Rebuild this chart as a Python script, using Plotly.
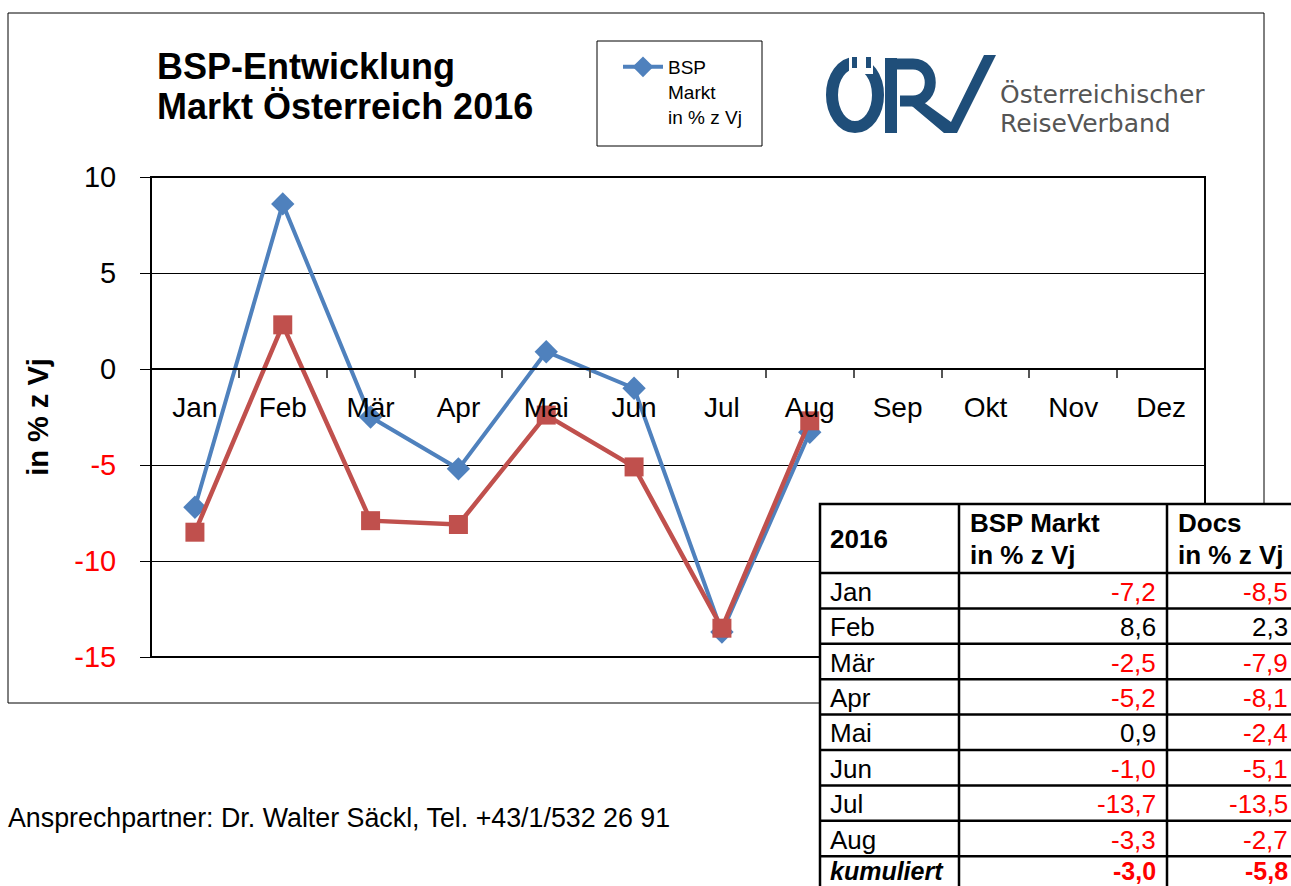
import plotly.graph_objects as go

# ---------------- data ----------------
months = ["Jan", "Feb", "Mär", "Apr", "Mai", "Jun", "Jul", "Aug", "Sep", "Okt", "Nov", "Dez"]
bsp_markt = [-7.2, 8.6, -2.5, -5.2, 0.9, -1.0, -13.7, -3.3]
docs = [-8.5, 2.3, -7.9, -8.1, -2.4, -5.1, -13.5, -2.7]
kumuliert_bsp = -3.0
kumuliert_docs = -5.8
y_tick_vals = [-15, -10, -5, 0, 5, 10]

# ---------------- geometry helpers (pixels) ----------------
W, H = 1291, 886
PL, PR, PT, PB = 151, 1205, 177, 657  # plot area in pixels
YMIN, YMAX = -15, 10

FONT = "Arial, Liberation Sans, sans-serif"
BLUE = "#4F81BD"
RED_S = "#C0504D"
RED = "#FF0000"
LOGO = "#1F4E79"


def fmt(v):
    return f"{v:.1f}".replace(".", ",")


def col(v):
    return RED if v < 0 else "black"


fig = go.Figure()

fig.add_trace(go.Scatter(
    x=months[:len(bsp_markt)], y=bsp_markt, mode="lines+markers",
    name="BSP<br>Markt<br>in % z Vj",
    line=dict(color=BLUE, width=4),
    marker=dict(symbol="diamond", size=18, color=BLUE),
    xaxis="x", yaxis="y", showlegend=True,
))
fig.add_trace(go.Scatter(
    x=months[:len(docs)], y=docs, mode="lines+markers",
    name="Docs",
    line=dict(color=RED_S, width=4.5),
    marker=dict(symbol="square", size=19, color=RED_S),
    xaxis="x", yaxis="y", showlegend=False,
))

zero_pos = 1 - (PT + (PB - PT) * (YMAX - 0) / (YMAX - YMIN)) / H

y_tick_text = [
    (f'<span style="color:{RED}">{v}</span>' if v < 0 else str(v)) for v in y_tick_vals
]

shapes = []
annotations = []

# outer chart frame
shapes.append(dict(type="rect", xref="x2", yref="y2", x0=8, y0=13, x1=1264, y1=703,
                   line=dict(color="black", width=1), layer="below"))
# plot area border
shapes.append(dict(type="rect", xref="x domain", yref="y domain", x0=0, y0=0, x1=1, y1=1,
                   line=dict(color="black", width=2), layer="above"))

# legend box
shapes.append(dict(type="rect", xref="x2", yref="y2", x0=597, y0=41, x1=762, y1=146,
                   line=dict(color="black", width=1), layer="above"))

# title
annotations.append(dict(xref="x2", yref="y2", x=155, y=66, xanchor="left", yanchor="middle",
                        text="<b>BSP-Entwicklung</b>", showarrow=False,
                        font=dict(family=FONT, size=36, color="black")))
annotations.append(dict(xref="x2", yref="y2", x=155, y=106, xanchor="left", yanchor="middle",
                        text="<b>Markt Österreich 2016</b>", showarrow=False,
                        font=dict(family=FONT, size=36, color="black")))

# ---------------- logo ----------------
shapes.append(dict(type="circle", xref="x2", yref="y2", x0=832, x1=878, y0=63, y1=127,
                   line=dict(color=LOGO, width=12), layer="above"))
shapes.append(dict(type="rect", xref="x2", yref="y2", x0=849, x1=873, y0=50, y1=74,
                   fillcolor="white", line=dict(width=0), layer="above"))
for sx in (852, 866):
    shapes.append(dict(type="rect", xref="x2", yref="y2", x0=sx, x1=sx + 5, y0=57, y1=68,
                       fillcolor=LOGO, line=dict(width=0), layer="above"))
# R stem
shapes.append(dict(type="rect", xref="x2", yref="y2", x0=885, x1=897, y0=58, y1=133,
                   fillcolor=LOGO, line=dict(width=0), layer="above"))
# R bowl
shapes.append(dict(type="path", xref="x2", yref="y2",
                   path="M 891,64 L 913,64 C 936,64 936,101 913,101 L 900,101",
                   line=dict(color=LOGO, width=11), layer="above"))
# R leg + V
shapes.append(dict(type="path", xref="x2", yref="y2",
                   path="M 900,96 L 915,96 L 951,122 L 984,55 L 996,55 L 957,133 L 944,133 Z",
                   fillcolor=LOGO, line=dict(width=0), layer="above"))
annotations.append(dict(xref="x2", yref="y2", x=998, y=94, xanchor="left", yanchor="middle",
                        text="Österreichischer", showarrow=False,
                        font=dict(family="DejaVu Sans, sans-serif", size=25, color="#555555")))
annotations.append(dict(xref="x2", yref="y2", x=998, y=123, xanchor="left", yanchor="middle",
                        text="ReiseVerband", showarrow=False,
                        font=dict(family="DejaVu Sans, sans-serif", size=25, color="#555555")))

# footer
annotations.append(dict(xref="x2", yref="y2", x=6, y=818, xanchor="left", yanchor="middle",
                        text="Ansprechpartner: Dr. Walter Säckl, Tel. +43/1/532 26 91",
                        showarrow=False, font=dict(family=FONT, size=26.8, color="black")))

# ---------------- table ----------------
TL, TT = 820, 504
C1, C2, TR = 959, 1167, 1320
HEAD_B = 573
ROW_H = 35.4
n_rows = len(bsp_markt) + 1
TB = HEAD_B + ROW_H * n_rows

shapes.append(dict(type="rect", xref="x2", yref="y2", x0=TL, y0=TT, x1=TR, y1=TB + 20,
                   fillcolor="white", line=dict(color="black", width=2.5), layer="above"))
for xv in (C1, C2):
    shapes.append(dict(type="line", xref="x2", yref="y2", x0=xv, x1=xv, y0=TT, y1=TB + 20,
                       line=dict(color="black", width=2.5), layer="above"))
shapes.append(dict(type="line", xref="x2", yref="y2", x0=TL, x1=TR, y0=HEAD_B, y1=HEAD_B,
                   line=dict(color="black", width=2.5), layer="above"))
for i in range(1, n_rows):
    yv = HEAD_B + ROW_H * i
    shapes.append(dict(type="line", xref="x2", yref="y2", x0=TL, x1=TR, y0=yv, y1=yv,
                       line=dict(color="black", width=2.5), layer="above"))

TF = 26
annotations.append(dict(xref="x2", yref="y2", x=828, y=539, xanchor="left", yanchor="middle",
                        text="<b>2016</b>", showarrow=False,
                        font=dict(family=FONT, size=TF, color="black")))
for xh, t in ((968, "BSP Markt"), (1176, "Docs")):
    annotations.append(dict(xref="x2", yref="y2", x=xh, y=523, xanchor="left", yanchor="middle",
                            text=f"<b>{t}</b>", showarrow=False,
                            font=dict(family=FONT, size=TF, color="black")))
    annotations.append(dict(xref="x2", yref="y2", x=xh, y=555, xanchor="left", yanchor="middle",
                            text="<b>in % z Vj</b>", showarrow=False,
                            font=dict(family=FONT, size=TF, color="black")))

for i, (m, b, d) in enumerate(zip(months, bsp_markt, docs)):
    yc = HEAD_B + ROW_H * (i + 0.5) + 1
    annotations.append(dict(xref="x2", yref="y2", x=828, y=yc, xanchor="left", yanchor="middle",
                            text=m, showarrow=False, font=dict(family=FONT, size=TF, color="black")))
    annotations.append(dict(xref="x2", yref="y2", x=1158, y=yc, xanchor="right", yanchor="middle",
                            text=fmt(b), showarrow=False, font=dict(family=FONT, size=TF, color=col(b))))
    annotations.append(dict(xref="x2", yref="y2", x=1290, y=yc, xanchor="right", yanchor="middle",
                            text=fmt(d), showarrow=False, font=dict(family=FONT, size=TF, color=col(d))))

yk = 871
TK = 25
annotations.append(dict(xref="x2", yref="y2", x=828, y=yk, xanchor="left", yanchor="middle",
                        text="<b><i>kumuliert</i></b>", showarrow=False,
                        font=dict(family=FONT, size=TK, color="black")))
annotations.append(dict(xref="x2", yref="y2", x=1158, y=yk, xanchor="right", yanchor="middle",
                        text=f"<b>{fmt(kumuliert_bsp)}</b>", showarrow=False,
                        font=dict(family=FONT, size=TK, color=col(kumuliert_bsp))))
annotations.append(dict(xref="x2", yref="y2", x=1290, y=yk, xanchor="right", yanchor="middle",
                        text=f"<b>{fmt(kumuliert_docs)}</b>", showarrow=False,
                        font=dict(family=FONT, size=TK, color=col(kumuliert_docs))))

fig.update_layout(
    width=W, height=H,
    margin=dict(l=0, r=0, t=0, b=0, pad=0, autoexpand=False),
    paper_bgcolor="white",
    plot_bgcolor="rgba(0,0,0,0)",
    font=dict(family=FONT, color="black"),
    showlegend=True,
    legend=dict(x=618 / W, y=1 - 48 / H, xanchor="left", yanchor="top",
                bgcolor="rgba(0,0,0,0)", borderwidth=0, valign="top",
                font=dict(family=FONT, size=19, color="black"), itemwidth=40),
    xaxis=dict(
        domain=[PL / W, PR / W], type="category", categoryorder="array", categoryarray=months,
        range=[-0.5, len(months) - 0.5], anchor="free", position=zero_pos,
        showline=True, linecolor="black", linewidth=1.5,
        ticks="outside", tickson="boundaries", ticklen=8, tickcolor="#555555", tickwidth=1.5,
        tickfont=dict(family=FONT, size=28, color="black"), ticklabelstandoff=14,
        showgrid=False, zeroline=False, fixedrange=True, automargin=False,
    ),
    yaxis=dict(
        domain=[1 - PB / H, 1 - PT / H], range=[YMIN, YMAX], anchor="x",
        tickmode="array", tickvals=y_tick_vals, ticktext=y_tick_text,
        ticks="outside", ticklen=10, tickcolor="black", tickwidth=1,
        tickfont=dict(family=FONT, size=29, color="black"), ticklabelstandoff=18,
        showgrid=True, gridcolor="black", gridwidth=1,
        zeroline=True, zerolinecolor="black", zerolinewidth=1.5,
        showline=False, fixedrange=True, automargin=False,
        title=dict(text="<b>in % z Vj</b>", font=dict(family=FONT, size=29, color="black"),
                   standoff=17),
    ),
    xaxis2=dict(domain=[0, 1], range=[0, W], anchor="y2", visible=False, fixedrange=True,
                automargin=False),
    yaxis2=dict(domain=[0, 1], range=[H, 0], anchor="x2", visible=False, fixedrange=True,
                automargin=False),
    shapes=shapes,
    annotations=annotations,
)

fig.write_html("out.html", config={"displayModeBar": False},
               post_script="document.body.style.margin='0';document.body.style.overflow='hidden';")
